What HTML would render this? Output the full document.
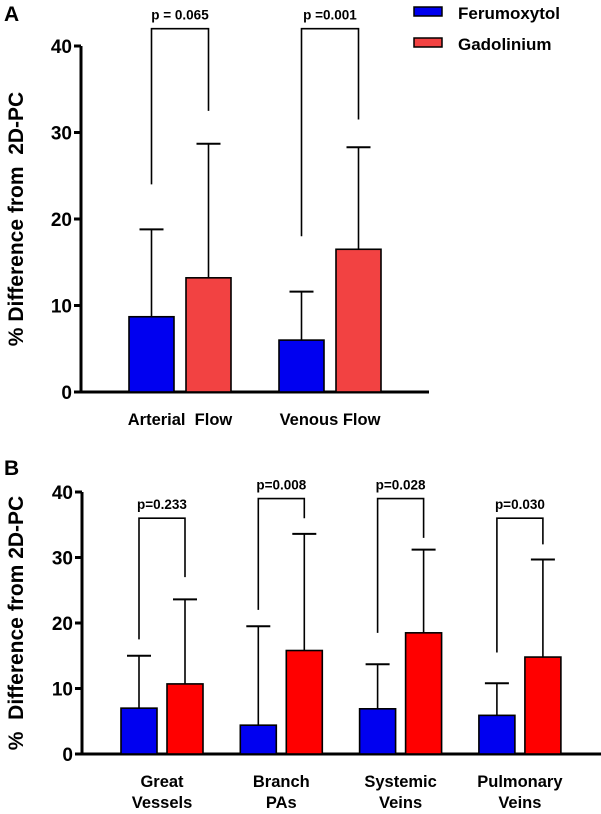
<!DOCTYPE html>
<html><head><meta charset="utf-8"><style>
html,body{margin:0;padding:0;background:#fff;}
svg{display:block;font-family:"Liberation Sans",Arial,sans-serif;font-weight:bold;}
text{white-space:pre;}
</style></head><body>
<svg id="chart" width="601" height="814" viewBox="0 0 601 814"></svg>
<script>
// Panel A data
const aCategories = ["Arterial  Flow", "Venous Flow"];
const aFeru = [8.7, 6.0];
const aFeruErr = [18.8, 11.6];
const aGado = [13.2, 16.5];
const aGadoErr = [28.7, 28.3];
const aPLabels = ["p = 0.065", "p =0.001"];
const aBracketLeft = [24, 18];
const aBracketRight = [32.5, 31.5];
const aBracketTop = [42, 42];
const aTicks = [0, 10, 20, 30, 40];
// Panel B data
const bCategories = [["Great","Vessels"],["Branch","PAs"],["Systemic","Veins"],["Pulmonary","Veins"]];
const bFeru = [7.0, 4.4, 6.9, 5.9];
const bFeruErr = [15.0, 19.5, 13.7, 10.8];
const bGado = [10.7, 15.8, 18.5, 14.8];
const bGadoErr = [23.6, 33.6, 31.2, 29.7];
const bPLabels = ["p=0.233", "p=0.008", "p=0.028", "p=0.030"];
const bBracketLeft = [17.5, 22, 18.5, 15.5];
const bBracketRight = [27, 36, 33, 32];
const bBracketTop = [36, 39, 39, 36];
const bTicks = [0, 10, 20, 30, 40];

const svg = document.getElementById('chart');
const NS = 'http://www.w3.org/2000/svg';
function mk(tag, attrs, text){
  const e = document.createElementNS(NS, tag);
  for (const k in attrs) e.setAttribute(k, attrs[k]);
  if (text !== undefined) e.textContent = text;
  svg.appendChild(e);
  return e;
}

function panel(cfg){
  const y = v => cfg.y0 - (v / 40) * (cfg.y0 - cfg.y40);
  let e = mk('line', {x1:cfg.ax, y1:cfg.y40, x2:cfg.ax, y2:cfg.y0+1.5, stroke:'#000','stroke-width':3});
  
  
  e = mk('line', {x1:cfg.ax-7, y1:cfg.y0, x2:cfg.axEnd, y2:cfg.y0, stroke:'#000','stroke-width':3});
  
  
  cfg.ticks.forEach(t => {
    const ty = y(t);
    let l = mk('line', {x1:cfg.ax-7, y1:ty, x2:cfg.ax, y2:ty, stroke:'#000','stroke-width':3});
    
    
    let tx = mk('text', {x:cfg.ax-9, y:ty+7, 'text-anchor':'end','font-size':19}, String(t));
    
    
  });
  const ty = (cfg.y0 + cfg.y40)/2;
  let tt = mk('text', {x:0, y:0, transform:`translate(${cfg.titleX},${ty}) rotate(-90)`, 'text-anchor':'middle','font-size':cfg.titleSize}, cfg.title);
  
  
  let pl = mk('text', {x:4, y:cfg.letterY, 'font-size':21}, cfg.letter);
  
  

  cfg.cats.forEach((c, i) => {
    const gx = cfg.start + i*cfg.step;
    const bx = gx, rx = gx + cfg.bw + cfg.gap;
    const bc = bx + cfg.bw/2, rc = rx + cfg.bw/2;
    [[bc, cfg.feru[i], cfg.feruErr[i], 'feru'], [rc, cfg.gado[i], cfg.gadoErr[i], 'gado']].forEach(([cx, v, ev, nm]) => {
      let l = mk('line', {x1:cx, y1:y(v), x2:cx, y2:y(ev), stroke:'#000','stroke-width':1.6});
      
      
      let cap = mk('line', {x1:cx-12, y1:y(ev), x2:cx+12, y2:y(ev), stroke:'#000','stroke-width':2});
      
      
    });
    let r1 = mk('rect', {x:bx, y:y(cfg.feru[i]), width:cfg.bw, height:y(0)-y(cfg.feru[i]), fill:'#0000f0', stroke:'#000','stroke-width':1.6});
    
    
    let r2 = mk('rect', {x:rx, y:y(cfg.gado[i]), width:cfg.bw, height:y(0)-y(cfg.gado[i]), fill:cfg.red, stroke:'#000','stroke-width':1.6});
    
    
    const top = y(cfg.bTop[i]);
    let br = mk('polyline', {points:`${bc},${y(cfg.bL[i])} ${bc},${top} ${rc},${top} ${rc},${y(cfg.bR[i])}`, fill:'none', stroke:'#000','stroke-width':1.6});
    
    
    let pt = mk('text', {x:(bc+rc)/2, y:top-9, 'text-anchor':'middle','font-size':13.5}, cfg.pl[i]);
    
    
    const lines = Array.isArray(c) ? c : [c];
    lines.forEach((ln, k) => {
      let ct = mk('text', {x:(bx+rx+cfg.bw)/2, y:cfg.catY + k*21, 'text-anchor':'middle','font-size':16.5}, ln);
      
      
    });
  });
}

panel({p:'a', letter:'A', letterY:21, ax:81, axEnd:429, y0:392, y40:46, ticks:aTicks,
  title:'% Difference from  2D-PC', titleX:23, titleSize:21,
  cats:aCategories, feru:aFeru, feruErr:aFeruErr, gado:aGado, gadoErr:aGadoErr,
  pl:aPLabels, bL:aBracketLeft, bR:aBracketRight, bTop:aBracketTop,
  start:129, step:150, bw:45, gap:12, red:'#f24242', catY:425});

panel({p:'b', letter:'B', letterY:475, ax:82, axEnd:601, y0:754, y40:492, ticks:bTicks,
  title:'%  Difference from 2D-PC', titleX:23, titleSize:21,
  cats:bCategories, feru:bFeru, feruErr:bFeruErr, gado:bGado, gadoErr:bGadoErr,
  pl:bPLabels, bL:bBracketLeft, bR:bBracketRight, bTop:bBracketTop,
  start:121, step:119.3, bw:36, gap:10, red:'#ff0000', catY:787});

const legend = [["Ferumoxytol","#0000f0",7],["Gadolinium","#f24242",38]];
legend.forEach(([name, col, ly]) => {
  let r = mk('rect', {x:414, y:ly, width:28, height:9, fill:col, stroke:'#000','stroke-width':1.5});
  
  
  let t = mk('text', {x:458, y:ly+12, 'font-size':17}, name);
  
  
});
</script>
</body></html>
